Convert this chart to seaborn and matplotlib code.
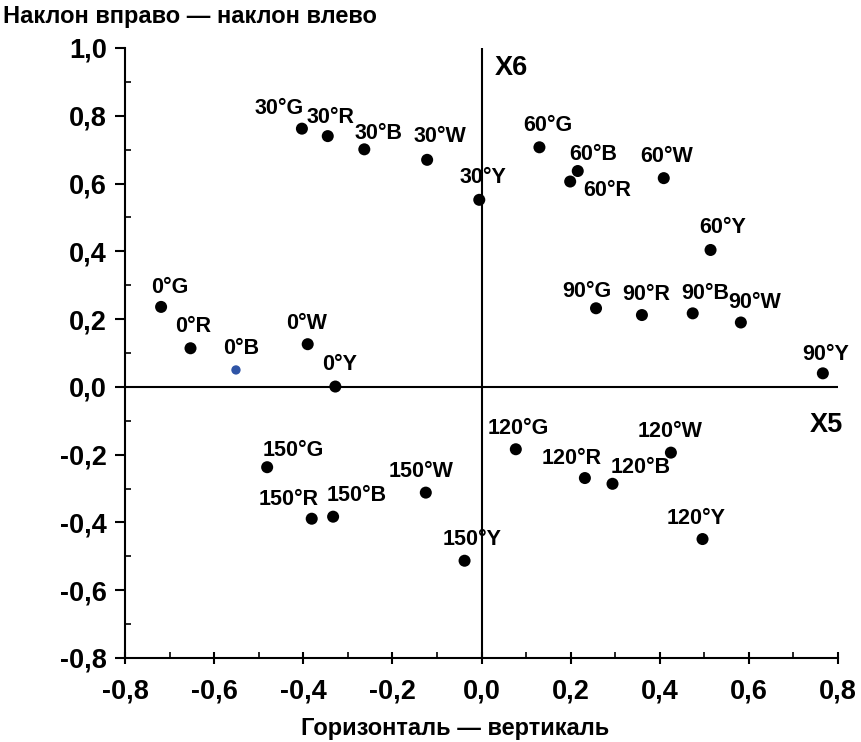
import pandas as pd
import seaborn as sns
import matplotlib.pyplot as plt
from matplotlib.ticker import MultipleLocator, FuncFormatter

# подписи точек и координаты (X5, X6)
labels = ["0°G", "0°R", "0°B", "0°W", "0°Y",
          "30°G", "30°R", "30°B", "30°W", "30°Y",
          "60°G", "60°B", "60°R", "60°W", "60°Y",
          "90°G", "90°R", "90°B", "90°W", "90°Y",
          "120°G", "120°R", "120°B", "120°W", "120°Y",
          "150°G", "150°R", "150°B", "150°W", "150°Y"]
x5 = [-0.719, -0.653, -0.551, -0.390, -0.328,
      -0.403, -0.345, -0.263, -0.122, -0.005,
      0.130, 0.216, 0.199, 0.409, 0.514,
      0.257, 0.360, 0.474, 0.582, 0.766,
      0.077, 0.232, 0.294, 0.425, 0.496,
      -0.481, -0.381, -0.333, -0.125, -0.038]
x6 = [0.236, 0.114, 0.050, 0.126, 0.001,
      0.762, 0.740, 0.701, 0.670, 0.552,
      0.707, 0.637, 0.606, 0.616, 0.404,
      0.232, 0.212, 0.217, 0.190, 0.040,
      -0.184, -0.269, -0.286, -0.194, -0.449,
      -0.237, -0.389, -0.383, -0.312, -0.513]
highlight = "0°B"

# смещения подписей (в пикселях: вправо, вниз)
offsets = [(9, -19), (3, -22), (5, -21), (-1, -21), (4, -22),
           (-23, -20), (3, -19), (14, -16), (13, -23), (4, -22),
           (8, -22), (15, -17), (37, 9), (3, -22), (12, -22),
           (-9, -17), (4, -21), (13, -20), (14, -20), (3, -19),
           (2, -21), (-13, -20), (28, -16), (-1, -21), (-6, -21),
           (26, -17), (-23, -19), (24, -21), (-5, -21), (8, -21)]

data = pd.DataFrame({"X5": x5, "X6": x6, "label": labels})
main = data[data["label"] != highlight]
blue = data[data["label"] == highlight]

sns.set_style("white")
plt.rcParams["font.family"] = ["Liberation Sans", "DejaVu Sans"]
plt.rcParams["font.weight"] = "bold"
plt.rcParams["text.color"] = "black"
plt.rcParams["axes.labelcolor"] = "black"
plt.rcParams["xtick.color"] = "black"
plt.rcParams["ytick.color"] = "black"

fig = plt.figure(figsize=(8.61, 7.42), dpi=100)
ax = fig.add_axes([125 / 861, 1 - 658 / 742, 713 / 861, 610 / 742])

sns.scatterplot(x="X5", y="X6", data=main, color="black", s=75,
                edgecolor="none", ax=ax, zorder=3)
sns.scatterplot(x="X5", y="X6", data=blue, color="#2f54a6", s=45,
                edgecolor="none", ax=ax, zorder=3)

for (lab, xx, yy), (dx, dy) in zip(zip(labels, x5, x6), offsets):
    ax.annotate(lab, (xx, yy), xytext=(dx * 0.72, -dy * 0.72),
                textcoords="offset points", ha="center", va="center",
                fontsize=15.5, fontweight="bold", color="black")

ax.axhline(0, color="black", lw=1.5, zorder=1)
ax.axvline(0, color="black", lw=1.5, zorder=1)

ax.text(0.068, 0.94, "X6", ha="center", va="center", fontsize=19.5, fontweight="bold")
ax.text(0.773, -0.112, "X5", ha="center", va="center", fontsize=19.5, fontweight="bold")

ax.set_xlim(-0.8, 0.8)
ax.set_ylim(-0.8, 1.0)
ax.xaxis.set_major_locator(MultipleLocator(0.2))
ax.xaxis.set_minor_locator(MultipleLocator(0.1))
ax.yaxis.set_major_locator(MultipleLocator(0.2))
ax.yaxis.set_minor_locator(MultipleLocator(0.1))
fmt = FuncFormatter(lambda v, p: f"{v:.1f}".replace(".", ",").replace("-0,0", "0,0"))
ax.xaxis.set_major_formatter(fmt)
ax.yaxis.set_major_formatter(fmt)

for side in ["top", "right"]:
    ax.spines[side].set_visible(False)
for side in ["left", "bottom"]:
    ax.spines[side].set_linewidth(1.5)
    ax.spines[side].set_color("black")

ax.tick_params(axis="x", which="major", direction="inout", length=8, width=1.5,
               labelsize=19.5, pad=11)
ax.tick_params(axis="y", which="major", direction="out", length=7, width=1.5,
               labelsize=19.5, pad=6)
ax.tick_params(which="minor", direction="in", length=4, width=1.2)
ax.tick_params(bottom=True, left=True, which="both")
for t in ax.get_xticklabels() + ax.get_yticklabels():
    t.set_fontweight("bold")

ax.set_xlabel("Горизонталь — вертикаль", fontsize=17, fontweight="bold")
ax.xaxis.set_label_coords((455 - 125) / 713, -0.116)
ax.xaxis.label.set_va("center")
ax.set_ylabel("")
fig.text(3 / 861, 1 - 17 / 742, "Наклон вправо — наклон влево", ha="left",
         va="center", fontsize=17, fontweight="bold")

plt.savefig("out.png", dpi=100)
